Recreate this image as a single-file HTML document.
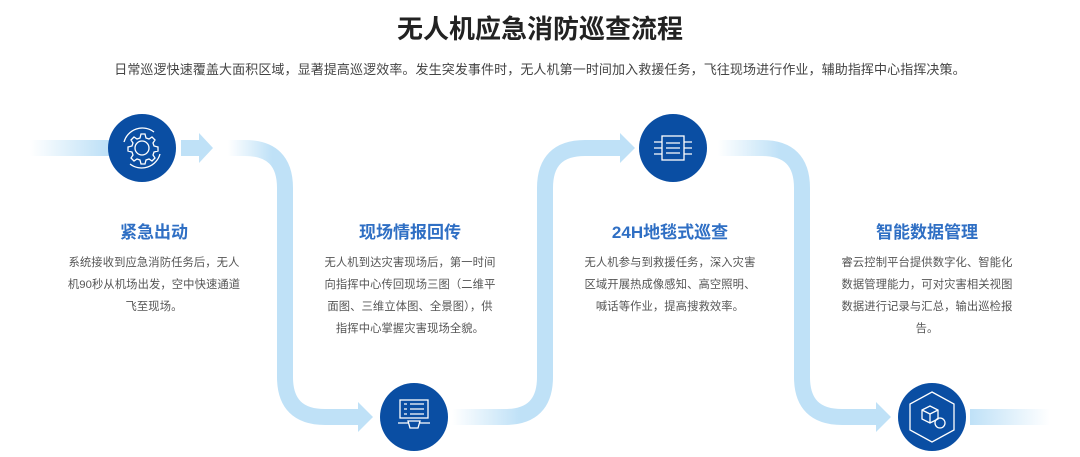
<!DOCTYPE html>
<html><head><meta charset="utf-8"><style>
body{margin:0;width:1080px;height:457px;background:#fff;overflow:hidden;position:relative;font-family:"Liberation Sans","Noto Sans CJK SC",sans-serif}
.t{position:absolute;left:0;width:1080px;text-align:center}
h1{position:absolute;left:0;top:13px;width:1080px;margin:0;text-align:center;font-size:26px;line-height:32px;color:#222;font-weight:bold}
.sub{top:61px;font-size:13px;color:#444;line-height:18px;letter-spacing:0.1px}
.col{position:absolute;top:220px;width:200px;text-align:center}
.col h2{margin:0;font-size:17px;line-height:26px;color:#2f6fc4;font-weight:bold}
.col p{margin:6px 0 0;font-size:11.3px;line-height:22px;color:#555;letter-spacing:0.1px;white-space:nowrap}
svg{position:absolute;left:0;top:0}
</style></head><body>
<svg width="1080" height="457">
<defs>
<linearGradient id="g0" gradientUnits="userSpaceOnUse" x1="30" y1="0" x2="105" y2="0"><stop offset="0" stop-color="#bfe1f7" stop-opacity="0"/><stop offset="1" stop-color="#bfe1f7"/></linearGradient>
<linearGradient id="g1" gradientUnits="userSpaceOnUse" x1="228" y1="0" x2="272" y2="0"><stop offset="0" stop-color="#bfe1f7" stop-opacity="0"/><stop offset="1" stop-color="#bfe1f7"/></linearGradient>
<linearGradient id="g2" gradientUnits="userSpaceOnUse" x1="452" y1="0" x2="520" y2="0"><stop offset="0" stop-color="#bfe1f7" stop-opacity="0"/><stop offset="1" stop-color="#bfe1f7"/></linearGradient>
<linearGradient id="g3" gradientUnits="userSpaceOnUse" x1="718" y1="0" x2="780" y2="0"><stop offset="0" stop-color="#bfe1f7" stop-opacity="0"/><stop offset="1" stop-color="#bfe1f7"/></linearGradient>
<linearGradient id="g4" gradientUnits="userSpaceOnUse" x1="970" y1="0" x2="1050" y2="0"><stop offset="0" stop-color="#bfe1f7"/><stop offset="1" stop-color="#bfe1f7" stop-opacity="0"/></linearGradient>
</defs>
<g fill="none" stroke-width="16">
<path d="M30 148H110" stroke="url(#g0)"/>
<path d="M181 148H202" stroke="#bfe1f7"/>
<path d="M228 148H245Q285 148 285 188V377Q285 417 325 417H360" stroke="url(#g1)"/>
<path d="M452 417H505Q545 417 545 377V188Q545 148 585 148H622" stroke="url(#g2)"/>
<path d="M718 148H762Q802 148 802 188V377Q802 417 842 417H878" stroke="url(#g3)"/>
<path d="M970 417H1052" stroke="url(#g4)"/>
</g>
<g fill="#bfe1f7">
<path d="M199 133L213 148L199 163Z"/>
<path d="M358 402L373 417L358 432Z"/>
<path d="M620 133L635 148L620 163Z"/>
<path d="M876 402L891 417L876 432Z"/>
</g>
<g fill="#0a4ea3">
<circle cx="142" cy="148" r="34"/>
<circle cx="414" cy="417" r="34"/>
<circle cx="673" cy="148" r="34"/>
<circle cx="932" cy="417" r="34"/>
</g>
<g fill="none" stroke="#fff" stroke-width="1.3">
<circle cx="142" cy="148" r="7"/>
<path d="M142 134l3 0 1 4 3 1 3-2 3 3-2 3 1 3 4 1v4l-4 1-1 3 2 3-3 3-3-2-3 1-1 4h-4l-1-4-3-1-3 2-3-3 2-3-1-3-4-1v-4l4-1 1-3-2-3 3-3 3 2 3-1 1-4z"/>
<path d="M124 142a19 19 0 0 1 30-10M160 154a19 19 0 0 1-30 10"/>
<rect x="400" y="400" width="28" height="18"/>
<path d="M404 404h3M404 409h3M404 414h3M410 404h14M410 409h14M410 414h14M398 423h10M420 423h10M408 421h12l-2 7h-8z"/>
<rect x="662" y="136" width="22" height="24"/>
<path d="M666 143h14M666 148h14M666 153h14M662 142h-8M662 148h-8M662 154h-8M684 142h8M684 148h8M684 154h8"/>
<path d="M932 392l22 12v26l-22 12-22-12v-26z"/>
<path d="M922 410l8-4 8 4v9l-8 4-8-4zM922 410l8 4 8-4M930 414v9"/>
<circle cx="940" cy="423" r="5"/>
</g>
</svg>
<h1>无人机应急消防巡查流程</h1>
<div class="t sub">日常巡逻快速覆盖大面积区域，显著提高巡逻效率。发生突发事件时，无人机第一时间加入救援任务，飞往现场进行作业，辅助指挥中心指挥决策。</div>
<div class="col" style="left:54px"><h2>紧急出动</h2><p>系统接收到应急消防任务后，无人<br>机90秒从机场出发，空中快速通道<br>飞至现场。</p></div>
<div class="col" style="left:310px"><h2>现场情报回传</h2><p>无人机到达灾害现场后，第一时间<br>向指挥中心传回现场三图（二维平<br>面图、三维立体图、全景图），供<br>指挥中心掌握灾害现场全貌。</p></div>
<div class="col" style="left:570px"><h2>24H地毯式巡查</h2><p>无人机参与到救援任务，深入灾害<br>区域开展热成像感知、高空照明、<br>喊话等作业，提高搜救效率。</p></div>
<div class="col" style="left:827px"><h2>智能数据管理</h2><p>睿云控制平台提供数字化、智能化<br>数据管理能力，可对灾害相关视图<br>数据进行记录与汇总，输出巡检报<br>告。</p></div>
</body></html>
